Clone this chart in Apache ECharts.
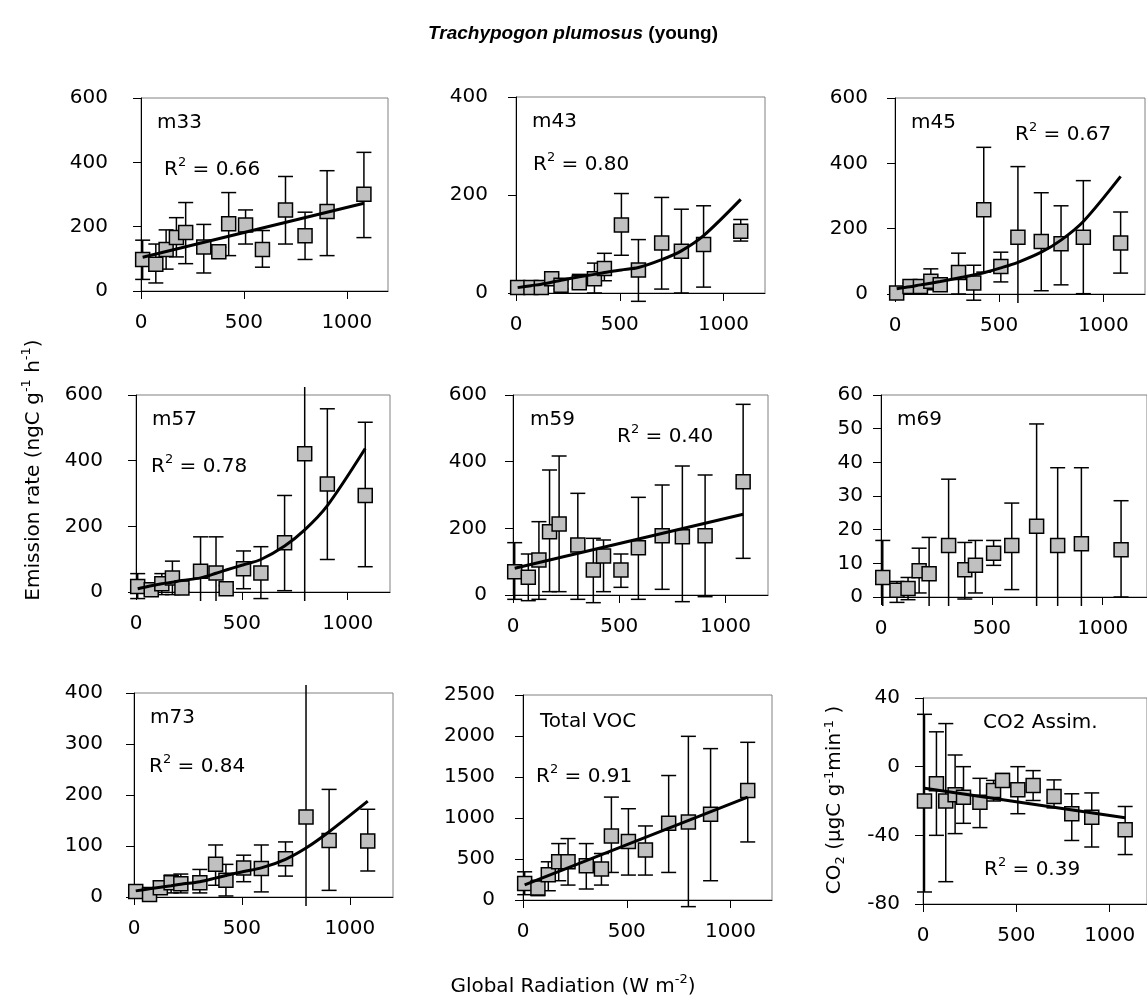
<!DOCTYPE html>
<html><head><meta charset="utf-8">
<script src="https://cdn.jsdelivr.net/npm/echarts@6/dist/echarts.min.js"></script>
<style>html,body{margin:0;padding:0;background:#fff}#c{width:1147px;height:1005px}</style>
</head><body><div id="c"></div>
<script>
// ---------- DATA ----------
const radiation = [8, 72, 122, 172, 217, 305, 378, 426, 508, 590, 702, 797, 904, 1083];
const xTicks = [0, 500, 1000];

const m33Mean = [98, 83, 129, 166, 182, 137, 122, 209, 205, 129, 252, 172, 247, 301];
const m33Low  = [36, 25, 68, 106, 85, 56, 108, 110, 146, 74, 146, 98, 110, 166];
const m33High = [158, 146, 190, 228, 275, 207, 136, 306, 252, 188, 356, 245, 374, 431];
const m33FitX = [8, 1083];
const m33FitY = [105, 273];

const m43Mean = [11, 11, 11, 29, 16, 21, 29, 50, 139, 47, 102, 85, 99, 126];
const m43Low  = [5, 5, 5, 20, 8, 10, 0, 25, 77, -17, 8, 0, 12, 106];
const m43High = [17, 17, 17, 38, 24, 38, 61, 81, 203, 109, 195, 171, 178, 150];
const m43FitY = [11, 15, 18, 22, 26, 33, 38, 42, 47, 52, 68, 86, 117, 191];

const m45Mean = [3, 23, 23, 39, 28, 66, 34, 258, 84, 174, 161, 154, 174, 156];
const m45Low  = [-5, 13, 13, 13, 10, 0, -19, 67, 37, -42, 10, 28, 1, 64];
const m45High = [11, 33, 33, 77, 46, 125, 88, 449, 128, 390, 310, 270, 347, 251];
const m45FitY = [16, 22, 28, 33, 38, 49, 58, 65, 80, 97, 128, 165, 222, 360];

const m57Mean = [17, 7, 25, 43, 12, 63, 58, 10, 71, 58, 150, 421, 329, 294];
const m57Low  = [-20, -5, -8, -8, 0, -29, -29, 0, 10, -20, 4, -460, 99, 77];
const m57High = [56, 19, 56, 94, 24, 168, 168, 20, 125, 138, 294, 1300, 558, 517];
const m57FitY = [10, 19, 25, 30, 35, 43, 57, 67, 83, 99, 140, 189, 263, 437];

const m59Mean = [70, 53, 105, 190, 213, 150, 75, 117, 75, 142, 178, 175, 178, 340];
const m59Low  = [-13, -17, -13, 10, 10, -13, -23, 10, 23, -13, 17, -20, -5, 110];
const m59High = [157, 123, 220, 375, 417, 305, 170, 165, 123, 293, 330, 387, 360, 572];
const m59FitX = [8, 1083];
const m59FitY = [80, 242];

const m69Mean = [5.8, 2.0, 2.5, 7.8, 6.9, 15.3, 8.1, 9.4, 13.0, 15.3, 21.0, 15.3, 15.8, 14.0];
const m69Low  = [-10, -1.6, -0.8, 1.2, -10, -10, -0.6, 1.2, 9.4, 2.2, -20, -15, -15, 0];
const m69High = [16.8, 4.6, 5.8, 14.5, 17.7, 35, 16.2, 16.8, 16.8, 27.9, 51.4, 38.4, 38.4, 28.6];

const m73Mean = [11, 5, 18, 28, 26, 28, 64, 33, 57, 56, 75, 157, 111, 110];
const m73Low  = [5, 0, 8, 8, 8, 8, 23, 2, 30, 10, 41, -200, 13, 51];
const m73High = [17, 10, 31, 43, 45, 54, 102, 64, 82, 102, 108, 520, 211, 172];
const m73FitY = [12, 16, 19, 22, 25, 30, 37, 42, 50, 57, 74, 96, 128, 188];

const vocMean = [202, 146, 308, 466, 466, 417, 377, 781, 713, 611, 935, 951, 1045, 1336];
const vocLow  = [65, 53, 113, 235, 182, 134, 182, 336, 304, 304, 336, -81, 235, 708];
const vocHigh = [344, 240, 466, 688, 749, 688, 567, 1255, 1113, 903, 1518, 1996, 1846, 1923];
const vocFitX = [8, 1083];
const vocFitY = [185, 1255];

const co2Mean = [-20, -10, -20, -16.4, -17.8, -20.7, -13.9, -8.1, -13.5, -11, -17.4, -27.4, -29.4, -36.7];
const co2Low  = [-73, -40, -67, -39, -33, -35.5, -20, -12, -27.4, -19.7, -24, -43, -46.8, -51.2];
const co2High = [30.5, 20.3, 25.1, 6.8, 0, -6.8, -8, -4, 0, -2.3, -7.7, -15.8, -15.3, -23.2];
const co2FitX = [8, 1083];
const co2FitY = [-12.6, -29.8];

const panelNames = ['m33', 'm43', 'm45', 'm57', 'm59', 'm69', 'm73', 'Total VOC', 'CO2 Assim.'];
const r2Values = ['0.66', '0.80', '0.67', '0.78', '0.40', null, '0.84', '0.91', '0.39'];
const yRanges = [[0, 600, 200], [0, 400, 200], [0, 600, 200], [0, 600, 200], [0, 600, 200],
                 [0, 60, 10], [0, 400, 100], [0, 2500, 500], [-80, 40, 40]];

// ---------- PANELS ----------
const panels = [
  {mean: m33Mean, low: m33Low, high: m33High, fx: m33FitX, fy: m33FitY},
  {mean: m43Mean, low: m43Low, high: m43High, fx: radiation, fy: m43FitY},
  {mean: m45Mean, low: m45Low, high: m45High, fx: radiation, fy: m45FitY},
  {mean: m57Mean, low: m57Low, high: m57High, fx: radiation, fy: m57FitY},
  {mean: m59Mean, low: m59Low, high: m59High, fx: m59FitX, fy: m59FitY},
  {mean: m69Mean, low: m69Low, high: m69High, fx: null, fy: null},
  {mean: m73Mean, low: m73Low, high: m73High, fx: radiation, fy: m73FitY},
  {mean: vocMean, low: vocLow, high: vocHigh, fx: vocFitX, fy: vocFitY},
  {mean: co2Mean, low: co2Low, high: co2High, fx: co2FitX, fy: co2FitY}
];

// ---------- LAYOUT ----------
const layout = [
  {grid: {left: 141, top: 98, width: 247, height: 193}, ym: 33, label: [157, 123], r2: [164, 168]},
  {grid: {left: 516, top: 97, width: 249, height: 196}, ym: 28, label: [532, 122], r2: [533, 163]},
  {grid: {left: 895, top: 98, width: 250, height: 196}, ym: 27, label: [911, 123], r2: [1015, 133]},
  {grid: {left: 136, top: 395, width: 254, height: 197}, ym: 33, label: [152, 420], r2: [151, 465]},
  {grid: {left: 513, top: 395, width: 255, height: 200}, ym: 26, label: [530, 420], r2: [617, 435]},
  {grid: {left: 881, top: 395, width: 271, height: 202}, ym: 18, label: [897, 420], r2: null},
  {grid: {left: 134, top: 693, width: 259, height: 204}, ym: 31, label: [150, 718], r2: [149, 765]},
  {grid: {left: 523, top: 695, width: 249, height: 205}, ym: 28, label: [540, 722], r2: [536, 775]},
  {grid: {left: 923, top: 698, width: 225, height: 206}, ym: 23, label: [983, 723], r2: [984, 868]}
];

const FONT = 'DejaVu Sans';
const FS = 20;
const plain = v => String(v);

function renderErr(params, api) {
  const x = api.value(0), lo = api.value(1), hi = api.value(2);
  const pLo = api.coord([x, lo]);
  const pHi = api.coord([x, hi]);
  const cs = params.coordSys;
  const topLim = cs.y - 8, botLim = cs.y + cs.height + 9;
  let yTop = pHi[1], yBot = pLo[1];
  const capTop = yTop >= topLim, capBot = yBot <= botLim;
  yTop = Math.max(yTop, topLim);
  yBot = Math.min(yBot, botLim);
  const cx = pLo[0], hw = 7.5;
  const st = {stroke: '#000', lineWidth: 1.5};
  const ch = [{type: 'line', shape: {x1: cx, y1: yTop, x2: cx, y2: yBot}, style: st}];
  if (capTop) ch.push({type: 'line', shape: {x1: cx - hw, y1: yTop, x2: cx + hw, y2: yTop}, style: st});
  if (capBot) ch.push({type: 'line', shape: {x1: cx - hw, y1: yBot, x2: cx + hw, y2: yBot}, style: st});
  return {type: 'group', children: ch};
}

const grids = [], xAxes = [], yAxes = [], series = [], graphics = [];
panels.forEach((p, i) => {
  const L = layout[i];
  grids.push(Object.assign({show: true, borderColor: '#808080', borderWidth: 1, backgroundColor: 'transparent'}, L.grid));
  xAxes.push({
    gridIndex: i, type: 'value', min: 0, max: 1200, interval: 500,
    axisLine: {show: true, onZero: false, lineStyle: {color: '#000', width: 1}},
    axisTick: {show: true, length: 8, customValues: xTicks, lineStyle: {color: '#000', width: 1}},
    axisLabel: {customValues: xTicks, formatter: plain, margin: 22, color: '#000', fontSize: FS, fontFamily: FONT},
    splitLine: {show: false}
  });
  const yr = yRanges[i];
  yAxes.push({
    gridIndex: i, type: 'value', min: yr[0], max: yr[1], interval: yr[2],
    axisLine: {show: true, onZero: false, lineStyle: {color: '#000', width: 1}},
    axisTick: {show: true, length: 8, lineStyle: {color: '#000', width: 1}},
    axisLabel: {formatter: plain, margin: L.ym, color: '#000', fontSize: FS, fontFamily: FONT},
    splitLine: {show: false}
  });
  series.push({
    type: 'custom', xAxisIndex: i, yAxisIndex: i, clip: false, z: 2, silent: true,
    renderItem: renderErr,
    data: radiation.map((x, k) => [x, p.low[k], p.high[k]])
  });
  series.push({
    type: 'scatter', xAxisIndex: i, yAxisIndex: i, z: 3, symbol: 'rect', symbolSize: 14,
    itemStyle: {color: '#c0c0c0', borderColor: '#000', borderWidth: 1.5, opacity: 1},
    data: radiation.map((x, k) => [x, p.mean[k]])
  });
  if (p.fx) {
    series.push({
      type: 'line', xAxisIndex: i, yAxisIndex: i, z: 4, showSymbol: false, symbol: 'none',
      smooth: p.fx.length > 2 ? 0.3 : false,
      lineStyle: {color: '#000', width: 3},
      data: p.fx.map((x, k) => [x, p.fy[k]])
    });
  }
  graphics.push({type: 'text', x: L.label[0], y: L.label[1], z: 10,
    style: {text: panelNames[i], fill: '#000', font: FS + 'px "' + FONT + '"', align: 'left', verticalAlign: 'middle'}});
  if (r2Values[i]) {
    graphics.push({type: 'text', x: L.r2[0], y: L.r2[1], z: 10,
      style: {text: '{a|R}{s|2}{a| = ' + r2Values[i] + '}', align: 'left', verticalAlign: 'middle',
        rich: {a: {fontSize: FS, fontFamily: FONT, fill: '#000', color: '#000', lineHeight: 24, verticalAlign: 'bottom'},
               s: {fontSize: 13, fontFamily: FONT, fill: '#000', color: '#000', lineHeight: 24, verticalAlign: 'top'}}}});
  }
});

// titles & axis names
graphics.push({type: 'text', x: 573, y: 34,
  style: {text: '{i|Trachypogon plumosus}{n| (young)}', align: 'center', verticalAlign: 'middle',
    rich: {i: {fontSize: 19, fontFamily: 'Liberation Sans', fontWeight: 'bold', fontStyle: 'italic', color: '#000'},
           n: {fontSize: 19, fontFamily: 'Liberation Sans', fontWeight: 'bold', color: '#000'}}}});
graphics.push({type: 'text', x: 32, y: 470, rotation: Math.PI / 2,
  style: {text: '{a|Emission rate (ngC g}{s|-1}{a| h}{s|-1}{a|)}', align: 'center', verticalAlign: 'middle',
    rich: {a: {fontSize: FS, fontFamily: FONT, color: '#000', lineHeight: 24, verticalAlign: 'bottom'},
           s: {fontSize: 13, fontFamily: FONT, color: '#000', lineHeight: 24, verticalAlign: 'top'}}}});
graphics.push({type: 'text', x: 835, y: 800, rotation: Math.PI / 2,
  style: {text: '{a|CO}{b|2}{a| (µgC g}{s|-1}{a|min}{s|-1}{a| )}', align: 'center', verticalAlign: 'middle',
    rich: {a: {fontSize: FS, fontFamily: FONT, color: '#000', lineHeight: 24, verticalAlign: 'middle'},
           s: {fontSize: 13, fontFamily: FONT, color: '#000', lineHeight: 24, verticalAlign: 'top'},
           b: {fontSize: 13, fontFamily: FONT, color: '#000', lineHeight: 24, verticalAlign: 'bottom'}}}});
graphics.push({type: 'text', x: 573, y: 985,
  style: {text: '{a|Global Radiation (W m}{s|-2}{a|)}', align: 'center', verticalAlign: 'middle',
    rich: {a: {fontSize: FS, fontFamily: FONT, color: '#000', lineHeight: 24, verticalAlign: 'bottom'},
           s: {fontSize: 13, fontFamily: FONT, color: '#000', lineHeight: 24, verticalAlign: 'top'}}}});

const chart = echarts.init(document.getElementById('c'), null, {renderer: 'canvas'});
chart.setOption({
  animation: false,
  backgroundColor: '#fff',
  grid: grids, xAxis: xAxes, yAxis: yAxes, series: series, graphic: graphics
});
</script></body></html>
